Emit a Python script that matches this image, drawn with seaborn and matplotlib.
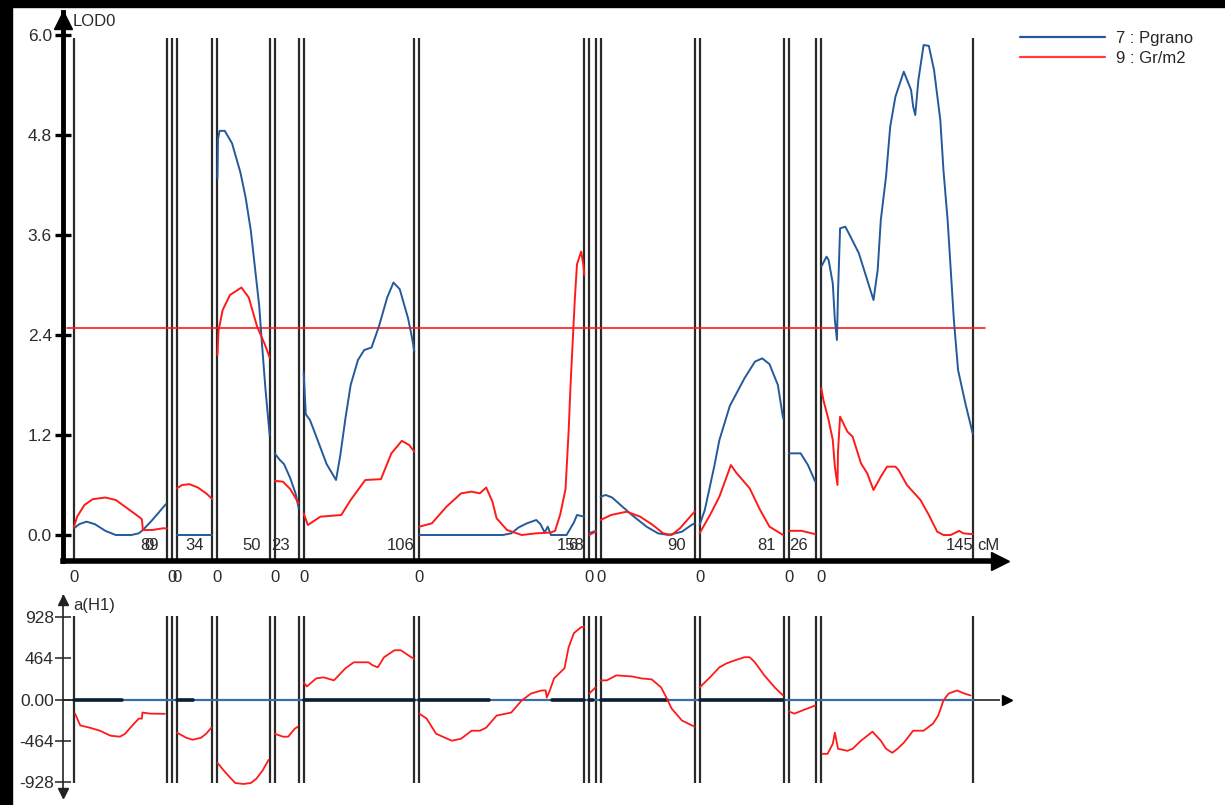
import numpy as np
import pandas as pd
import matplotlib
matplotlib.use("Agg")
import matplotlib.pyplot as plt
from matplotlib.lines import Line2D
from matplotlib.patches import Rectangle
import seaborn as sns

# linkage groups: length (cM) and the label printed near the end of each group
seg_len = [89, 0, 34, 50, 23, 106, 158, 6, 90, 81, 26, 145]
seg_lab = ["89", "0", "34", "50", "23", "106", "158", "6", "90", "81", "26", "145"]
gap = 4.8  # spacing between groups on the common axis

# LOD profile, trait 7 : Pgrano  -> (cM inside group, LOD)
pgrano_lod = [
    [(0, .08), (5, .13), (12, .16), (20, .13), (30, .05), (40, 0), (55, 0), (62, .02), (66, .06), (75, .18), (88, .37)],
    [],
    [(0, 0), (34, 0)],
    [(0, 4.28), (0.5, 4.75), (2, 4.85), (7, 4.85), (14, 4.70), (22, 4.35), (27, 4.05), (32, 3.65), (36, 3.2),
     (40, 2.75), (42, 2.4), (46, 1.75), (50, 1.2)],
    [(0, .98), (5, .9), (9, .85), (15, .68), (20, .5), (23, .32)],
    [(0, 1.95), (2, 1.45), (6, 1.38), (10, 1.25), (16, 1.05), (22, .85), (31, .66), (35, .95), (40, 1.4), (45, 1.8),
     (52, 2.1), (58, 2.22), (65, 2.25), (72, 2.5), (80, 2.85), (86, 3.03), (92, 2.95), (100, 2.6), (104, 2.35), (106, 2.2)],
    [(0, 0), (80, 0), (88, .02), (95, .09), (103, .14), (112, .18), (116, .13), (120, .03), (123, .1), (126, 0),
     (141, 0), (148, .15), (151, .24), (158, .22)],
    [(0, .02), (6, .05)],
    [(0, .46), (5, .48), (11, .45), (20, .35), (30, .24), (44, .10), (55, .02), (65, 0), (78, .04), (87, .12), (90, .14)],
    [(0, .12), (5, .3), (14, .82), (19, 1.14), (29, 1.55), (43, 1.88), (53, 2.08), (60, 2.12), (67, 2.05), (75, 1.8), (80, 1.4)],
    [(0, .98), (11, .98), (18, .84), (25, .64)],
    [(0, 3.22), (5, 3.34), (7, 3.3), (11, 3.02), (13, 2.58), (15, 2.34), (16, 2.9), (18, 3.68), (23, 3.70), (28, 3.58),
     (36, 3.38), (44, 3.06), (50, 2.82), (54, 3.18), (57, 3.78), (62, 4.3), (66, 4.9), (71, 5.26), (79, 5.56), (86, 5.34),
     (88, 5.14), (90, 5.04), (93, 5.46), (98, 5.88), (103, 5.87), (108, 5.58), (114, 4.98), (117, 4.38), (121, 3.78),
     (124, 3.18), (127, 2.58), (131, 1.98), (138, 1.58), (145, 1.22)],
]

# LOD profile, trait 9 : Gr/m2
grm2_lod = [
    [(0, .10), (3, .22), (10, .36), (18, .43), (30, .45), (40, .42), (50, .33), (62, .22), (65, .19), (66, .06),
     (75, .06), (85, .08), (89, .08)],
    [],
    [(0, .56), (5, .60), (12, .61), (20, .57), (28, .50), (34, .43)],
    [(0, 2.16), (1, 2.45), (5, 2.7), (12, 2.88), (23, 2.97), (30, 2.85), (38, 2.5), (45, 2.3), (50, 2.13)],
    [(0, .65), (8, .64), (15, .55), (23, .38)],
    [(0, .26), (4, .12), (16, .22), (36, .24), (45, .42), (59, .66), (74, .67), (84, .98), (94, 1.13), (101, 1.08), (106, 1.0)],
    [(0, .10), (12, .14), (26, .34), (40, .50), (50, .52), (58, .50), (64, .57), (70, .40), (74, .2), (84, .06), (98, 0),
     (112, .02), (126, .03), (130, .05), (135, .25), (140, .55), (143, 1.25), (145, 1.85), (147, 2.35), (149, 2.85),
     (151, 3.25), (155, 3.40), (157, 3.25), (158, 3.12)],
    [(0, 0), (6, .04)],
    [(0, .18), (10, .24), (25, .28), (38, .22), (50, .12), (60, .02), (68, 0), (76, .08), (90, .28)],
    [(0, .02), (10, .24), (19, .46), (30, .84), (35, .75), (48, .56), (58, .3), (67, .1), (80, 0)],
    [(0, .05), (12, .05), (25, .01)],
    [(0, 1.76), (2, 1.62), (7, 1.38), (11, 1.14), (13, .82), (15.5, .6), (16, 1.0), (18, 1.42), (25, 1.24), (30, 1.18),
     (38, .86), (44, .74), (50, .54), (57, .7), (63, .82), (71, .82), (74, .78), (82, .6), (95, .42), (103, .24),
     (111, .04), (117, 0), (124, 0), (132, .05), (136, .02), (145, .01)],
]
threshold = 2.48

# additive effect a(H1), trait 9
grm2_add = [
    [(1, -158), (6, -290), (15, -315), (25, -350), (35, -405), (44, -416), (49, -383), (54, -315), (62, -214),
     (65, -214), (65.5, -146), (73, -158), (87, -160)],
    [],
    [(0, -371), (9, -428), (15, -450), (23, -428), (28, -383), (33, -315)],
    [(0, -709), (8, -821), (17, -934), (25, -945), (32, -934), (37, -889), (43, -799), (49, -675)],
    [(0, -383), (8, -416), (13, -416), (19, -330), (22, -305)],
    [(0, 191), (3, 146), (12, 236), (19, 248), (29, 214), (40, 349), (48, 416), (62, 416), (66, 383), (71, 360),
     (77, 473), (87, 551), (93, 551), (103, 473), (106, 455)],
    [(0, -158), (7, -214), (16, -383), (31, -461), (40, -439), (50, -349), (58, -349), (64, -315), (74, -180),
     (88, -146), (98, -11), (107, 67), (117, 101), (121, 101), (122, 22), (125, 101), (129, 236), (139, 349),
     (143, 585), (148, 742), (155, 810), (158, 810)],
    [(0, 67), (6, 135)],
    [(0, 214), (6, 214), (15, 270), (30, 258), (39, 236), (49, 225), (58, 135), (63, 22), (68, -101), (78, -236), (90, -304)],
    [(0, 135), (10, 248), (19, 360), (26, 405), (34, 439), (43, 473), (48, 473), (53, 416), (62, 270), (72, 135), (80, 45)],
    [(0, -135), (5, -158), (15, -112), (25, -67)],
    [(1, -608), (6, -608), (11, -495), (13, -371), (16, -551), (25, -574), (30, -551), (38, -461), (49, -360),
     (57, -461), (62, -551), (68, -596), (73, -551), (79, -484), (88, -349), (98, -349), (107, -270), (112, -180),
     (117, -11), (122, 67), (130, 101), (137, 67), (143, 45)],
]

# additive effect of trait 7 is zero on these stretches: (group, from cM, to cM)
pgrano_add_zero = [(0, 0, 46), (2, 0, 15), (5, 0, 106), (6, 0, 67), (6, 127, 158), (7, 0, 4), (8, 0, 64), (9, 0, 80)]

lod_ticks = [0.0, 1.2, 2.4, 3.6, 4.8, 6.0]
add_ticks = [928, 464, 0, -464, -928]
add_tick_labels = ["928", "464", "0.00", "-464", "-928"]

BLUE = "#245a9a"
RED = "#ff1a1a"
VLINE = "#2a2a2a"

offsets = np.concatenate([[0], np.cumsum(np.array(seg_len[:-1]) + gap)])
ends = offsets + np.array(seg_len)


def frame(series, name):
    rows = []
    for g, pts in enumerate(series):
        for cm, v in pts:
            rows.append((name, g, offsets[g] + cm, v))
    return pd.DataFrame(rows, columns=["trait", "grp", "pos", "val"])


lod_df = pd.concat([frame(pgrano_lod, "7 : Pgrano"), frame(grm2_lod, "9 : Gr/m2")], ignore_index=True)
add_df = frame(grm2_add, "9 : Gr/m2")
zero_rows = []
for k, (g, a, b) in enumerate(pgrano_add_zero):
    zero_rows += [(k, offsets[g] + a, 0.0), (k, offsets[g] + b, 0.0)]
zero_df = pd.DataFrame(zero_rows, columns=["piece", "pos", "val"])

sns.set_theme(style="white")
plt.rcParams["font.family"] = ["Liberation Sans", "DejaVu Sans"]

W, H = 1225, 805
fig = plt.figure(figsize=(W / 100, H / 100), dpi=100)


def px2x(p):
    return (p - 74) / 1.044


xl = (px2x(63), px2x(1000))

# ---------- LOD panel ----------
ax = fig.add_axes([63 / W, 1 - 561 / H, 937 / W, 549 / H])
lod_lo, lod_hi = (535 - 561) / 83.33, (535 - 12) / 83.33
ax.set_xlim(xl)
ax.set_ylim(lod_lo, lod_hi)

bounds = sorted(set(list(offsets) + list(ends)))
ax.vlines(bounds, lod_lo, 5.97, color=VLINE, lw=1.6, zorder=1)
ax.plot([px2x(67), px2x(985)], [threshold, threshold], color=RED, lw=1.2, zorder=2)

sns.lineplot(data=lod_df, x="pos", y="val", hue="trait", units="grp", estimator=None, sort=False,
             palette={"7 : Pgrano": BLUE, "9 : Gr/m2": RED}, lw=1.4, legend=False, ax=ax, zorder=3)

for s in ["top", "right"]:
    ax.spines[s].set_visible(False)
ax.spines["left"].set_linewidth(3.5)
ax.spines["bottom"].set_linewidth(4)
ax.spines["left"].set_color("black")
ax.spines["bottom"].set_color("black")
ax.set_yticks(lod_ticks)
ax.set_yticklabels([f"{t:.1f}" for t in lod_ticks])
ax.tick_params(axis="y", direction="inout", length=12, width=2.4, color="black",
               labelsize=12.5, labelcolor="#2b2b2b", pad=2, left=True)
ax.set_xticks([])
ax.set_xlabel("")
ax.set_ylabel("")
ax.plot([xl[0]], [(535 - 20) / 83.33], marker="^", ms=13, color="black", clip_on=False, zorder=5)
ax.plot([px2x(1000)], [lod_lo], marker=">", ms=13, color="black", clip_on=False, zorder=5)
ax.text(px2x(73), (535 - 22) / 83.33, "LOD0", fontsize=12, color="#2b2b2b", va="center", ha="left", clip_on=False)

for o in offsets:
    ax.text(o, (535 - 577) / 83.33, "0", fontsize=12, color="#2b2b2b", ha="center", va="center", clip_on=False)
for e, lab in zip(ends, seg_lab):
    ax.text(e - 26, (535 - 546) / 83.33, lab, fontsize=12, color="#2b2b2b", ha="left", va="center", clip_on=False)
ax.text(px2x(977), (535 - 546) / 83.33, "cM", fontsize=12, color="#2b2b2b", ha="left", va="center", clip_on=False)

handles = [Line2D([], [], color=BLUE, lw=1.6), Line2D([], [], color="#ff3b3b", lw=1.6)]
ax.legend(handles, ["7 : Pgrano", "9 : Gr/m2"], loc="upper left",
          bbox_to_anchor=((1013 - 63) / 937, (561 - 24) / 549), frameon=False, fontsize=12,
          handlelength=5.1, handletextpad=0.7, labelspacing=0.3, borderaxespad=0)

# ---------- additive effect panel ----------
bx = fig.add_axes([63 / W, 1 - 797 / H, 937 / W, 201 / H])
a_lo, a_hi = (699.5 - 797) / 0.0894, (699.5 - 596) / 0.0894
bx.set_xlim(xl)
bx.set_ylim(a_lo, a_hi)
bx.vlines(bounds, -930, 930, color=VLINE, lw=1.6, zorder=1)
bx.plot([xl[0], px2x(1005)], [0, 0], color="#222222", lw=1.2, zorder=2)
bx.plot([0, ends[-1]], [0, 0], color="#3b6ea8", lw=1.6, zorder=2)
bx.plot([px2x(1007)], [0], marker=">", ms=7, color="black", clip_on=False, zorder=5)
sns.lineplot(data=zero_df, x="pos", y="val", units="piece", estimator=None, sort=False,
             color="#0b1e33", lw=2.6, ax=bx, zorder=3)
sns.lineplot(data=add_df, x="pos", y="val", units="grp", estimator=None, sort=False,
             color=RED, lw=1.3, ax=bx, zorder=4)

for s in ["top", "right", "bottom"]:
    bx.spines[s].set_visible(False)
bx.spines["left"].set_linewidth(1.2)
bx.spines["left"].set_color("#222222")
bx.set_yticks(add_ticks)
bx.set_yticklabels(add_tick_labels)
bx.tick_params(axis="y", direction="inout", length=11, width=1.1, color="#222222",
               labelsize=12.5, labelcolor="#2b2b2b", pad=1, left=True)
bx.set_xticks([])
bx.set_xlabel("")
bx.set_ylabel("")
bx.plot([xl[0]], [a_hi - 40], marker="^", ms=7, color="#222222", clip_on=False, zorder=5)
bx.plot([xl[0]], [a_lo + 40], marker="v", ms=7, color="#222222", clip_on=False, zorder=5)
bx.text(px2x(73), (699.5 - 605) / 0.0894, "a(H1)", fontsize=12, color="#2b2b2b", va="center", ha="left", clip_on=False)

# black screenshot edges
fig.add_artist(Rectangle((0, 0), 12 / W, 1, transform=fig.transFigure, color="black", zorder=10))
fig.add_artist(Rectangle((0, 1 - 7 / H), 1, 7 / H, transform=fig.transFigure, color="black", zorder=10))

fig.savefig("out.png", dpi=100)
